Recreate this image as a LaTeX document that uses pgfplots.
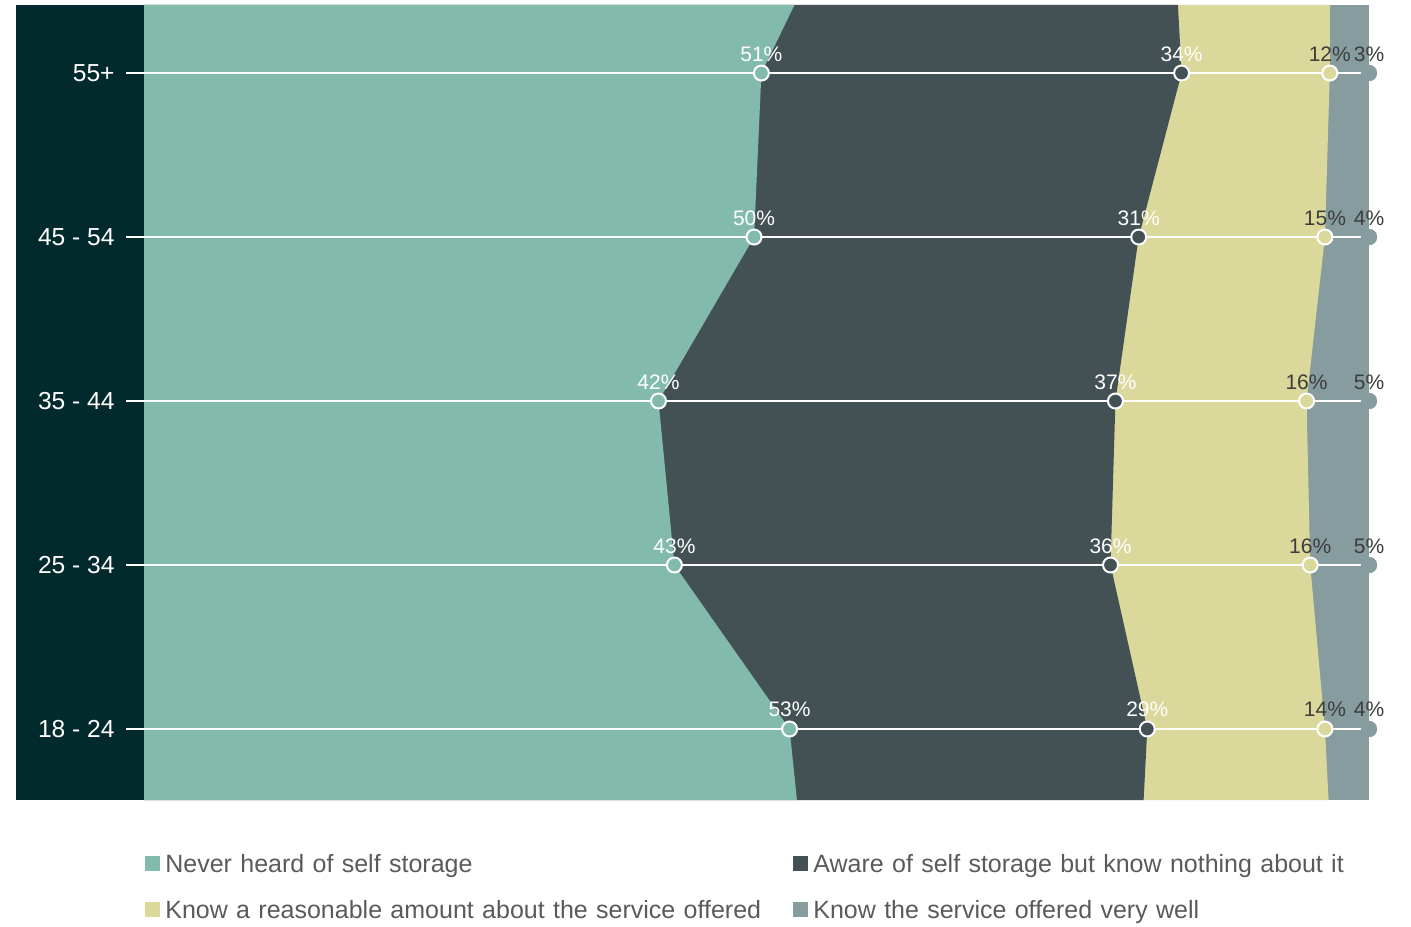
\documentclass[border=0pt]{standalone}
\usepackage{fontspec}
\setmainfont{Liberation Sans}
\usepackage{pgfplots}
\pgfplotsset{compat=1.18}

\definecolor{band}{HTML}{02292C}
\definecolor{cTeal}{HTML}{82BBAC}
\definecolor{cDark}{HTML}{435155}
\definecolor{cYellow}{HTML}{DAD89B}
\definecolor{cGrey}{HTML}{879C9F}
\definecolor{lbldark}{HTML}{3D3D3D}
\definecolor{legtext}{HTML}{5A5A5A}

\begin{document}
\begin{tikzpicture}
\path[use as bounding box] (0,0) rectangle (705.5pt,463pt);
% dark band behind the age groups
\fill[band] (8pt,63pt) rectangle (72pt,460.5pt);
\begin{axis}[
    at={(72pt,63pt)}, anchor=south west,
    scale only axis,
    width=612.5pt, height=397.5pt,
    xmin=0, xmax=100,
    ymin=-0.433, ymax=4.415,
    clip=false,
    axis line style={draw=none},
    xtick=\empty,
    ytick={0,1,2,3,4},
    yticklabels={18 - 24, 25 - 34, 35 - 44, 45 - 54, 55+},
    ytick pos=left,
    tick align=outside,
    major tick length=9pt,
    tick style={white, line width=1pt},
    yticklabel style={text=white, font=\fontsize{12.3}{14}\selectfont, inner sep=0pt, xshift=-5.5pt},
    legend columns=2,
    legend cell align=left,
    legend image code/.code={\fill[#1, draw=none] (0pt,-2.5pt) rectangle (7.5pt,5pt);},
    legend style={at={(0,0)}, anchor=north west, xshift=0.5pt, yshift=-27pt,
        draw=none, fill=none, inner sep=0pt, row sep=11pt,
        font=\fontsize{12.5}{15}\selectfont, text=legtext,
        nodes={inner sep=0pt, text height=9pt, text depth=3pt},
        /tikz/every odd column/.append style={column sep=2.5pt},
        /tikz/column 2/.style={text width=314pt, align=left},
        /tikz/column 4/.style={text width=290pt, align=left}},
    every node near coord/.append style={anchor=base, yshift=6pt, inner sep=0pt,
        font=\fontsize{10.5}{13}\selectfont},
]
% stacked areas, drawn from the outside in (cumulative %)
\addplot[fill=cGrey, draw=none, forget plot] coordinates {
    (0,-0.433) (100,-0.433) (100,4.415) (0,4.415)} -- cycle;
\addplot[fill=cYellow, draw=none, forget plot] coordinates {
    (0,-0.433) (96.7,-0.433) (96.4,0) (95.2,1) (94.9,2) (96.4,3) (96.8,4) (96.8,4.415) (0,4.415)} -- cycle;
\addplot[fill=cDark, draw=none, forget plot] coordinates {
    (0,-0.433) (81.6,-0.433) (81.9,0) (78.9,1) (79.3,2) (81.2,3) (84.7,4) (84.4,4.415) (0,4.415)} -- cycle;
\addplot[fill=cTeal, draw=none, forget plot] coordinates {
    (0,-0.433) (53.3,-0.433) (52.7,0) (43.3,1) (42.0,2) (49.8,3) (50.4,4) (53.1,4.415) (0,4.415)} -- cycle;

% white guide lines
\pgfplotsinvokeforeach{0,1,2,3,4}{
  \addplot[white, line width=1pt, forget plot] coordinates {(0,#1) (100,#1)};
}

% markers with segment shares
\addplot[only marks, mark=*, mark size=3.75pt, forget plot,
    mark options={fill=cTeal, draw=white, line width=1pt},
    nodes near coords, point meta=explicit symbolic,
    every node near coord/.append style={text=white}] coordinates {
    (52.7,0) [53\%] (43.3,1) [43\%] (42.0,2) [42\%] (49.8,3) [50\%] (50.4,4) [51\%]};
\addplot[only marks, mark=*, mark size=3.75pt, forget plot,
    mark options={fill=cDark, draw=white, line width=1pt},
    nodes near coords, point meta=explicit symbolic,
    every node near coord/.append style={text=white}] coordinates {
    (81.9,0) [29\%] (78.9,1) [36\%] (79.3,2) [37\%] (81.2,3) [31\%] (84.7,4) [34\%]};
\addplot[only marks, mark=*, mark size=3.75pt, forget plot,
    mark options={fill=cYellow, draw=white, line width=1pt},
    nodes near coords, point meta=explicit symbolic,
    every node near coord/.append style={text=lbldark}] coordinates {
    (96.4,0) [14\%] (95.2,1) [16\%] (94.9,2) [16\%] (96.4,3) [15\%] (96.8,4) [12\%]};
\addplot[only marks, mark=*, mark size=4pt, forget plot,
    mark options={fill=cGrey, draw=cGrey, line width=0.2pt},
    nodes near coords, point meta=explicit symbolic,
    every node near coord/.append style={text=lbldark}] coordinates {
    (100,0) [4\%] (100,1) [5\%] (100,2) [5\%] (100,3) [4\%] (100,4) [3\%]};

\addlegendimage{fill=cTeal}
\addlegendentry{Never heard of self storage}
\addlegendimage{fill=cDark}
\addlegendentry{Aware of self storage but know nothing about it}
\addlegendimage{fill=cYellow}
\addlegendentry{Know a reasonable amount about the service offered}
\addlegendimage{fill=cGrey}
\addlegendentry{Know the service offered very well}
\end{axis}
\end{tikzpicture}
\end{document}
